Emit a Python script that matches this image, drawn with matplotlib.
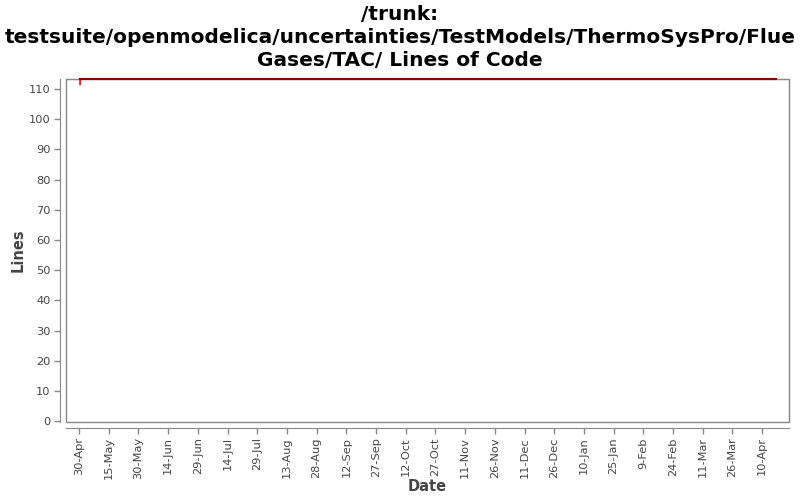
import matplotlib
matplotlib.use('Agg')
import matplotlib.pyplot as plt
from matplotlib.patches import Rectangle
from datetime import datetime, timedelta

# data
dates = [datetime(2010, 4, 30, 12), datetime(2010, 4, 30, 13), datetime(2011, 4, 17)]
lines = [111.5, 113.3, 113.3]

tick_start = datetime(2010, 4, 30)
tick_dates = [tick_start + timedelta(days=15 * i) for i in range(24)]
tick_labels = [f"{d.day}-{d.strftime('%b')}" for d in tick_dates]

title = "/trunk:\ntestsuite/openmodelica/uncertainties/TestModels/ThermoSysPro/Flue\nGases/TAC/ Lines of Code"

grey = '#888888'
txt = '#444444'

fig = plt.figure(figsize=(8, 5), dpi=100)
ax = fig.add_axes([66 / 800, 1 - 422 / 500, (789 - 66) / 800, (422 - 79) / 500])

ax.plot(dates, lines, color='red', lw=1.2, zorder=5, clip_on=False)
ax.plot(dates[1:], lines[1:], color='#8b0000', lw=1.5, zorder=6, clip_on=False)

ax.set_xlim(datetime(2010, 4, 23, 10), datetime(2011, 4, 23, 14))
ax.set_ylim(-0.3, 113.3)
ax.set_yticks(range(0, 111, 10))
ax.set_xticks(tick_dates)
ax.set_xticklabels(tick_labels)

for side in ['top', 'right']:
    ax.spines[side].set_color(grey)
for side in ['left', 'bottom']:
    ax.spines[side].set_color(grey)
    ax.spines[side].set_position(('outward', 4))
ax.add_patch(Rectangle((0, 0), 1, 1, transform=ax.transAxes, fill=False,
                       edgecolor=grey, lw=1, clip_on=False, zorder=0))

ax.tick_params(colors=grey, labelcolor=txt, labelsize=8.2, length=4, width=1, pad=3)
ax.tick_params(axis='x', labelrotation=90)
ax.set_xlabel('Date', fontsize=10.5, color=txt, fontweight='bold', labelpad=0)
ax.set_ylabel('Lines', fontsize=10.5, color=txt, fontweight='bold')
ax.yaxis.set_label_coords(-0.056, 0.5)
fig.suptitle(title, fontsize=14.5, fontweight='bold', y=0.99, linespacing=1.27)

fig.savefig('out.png', dpi=100)
